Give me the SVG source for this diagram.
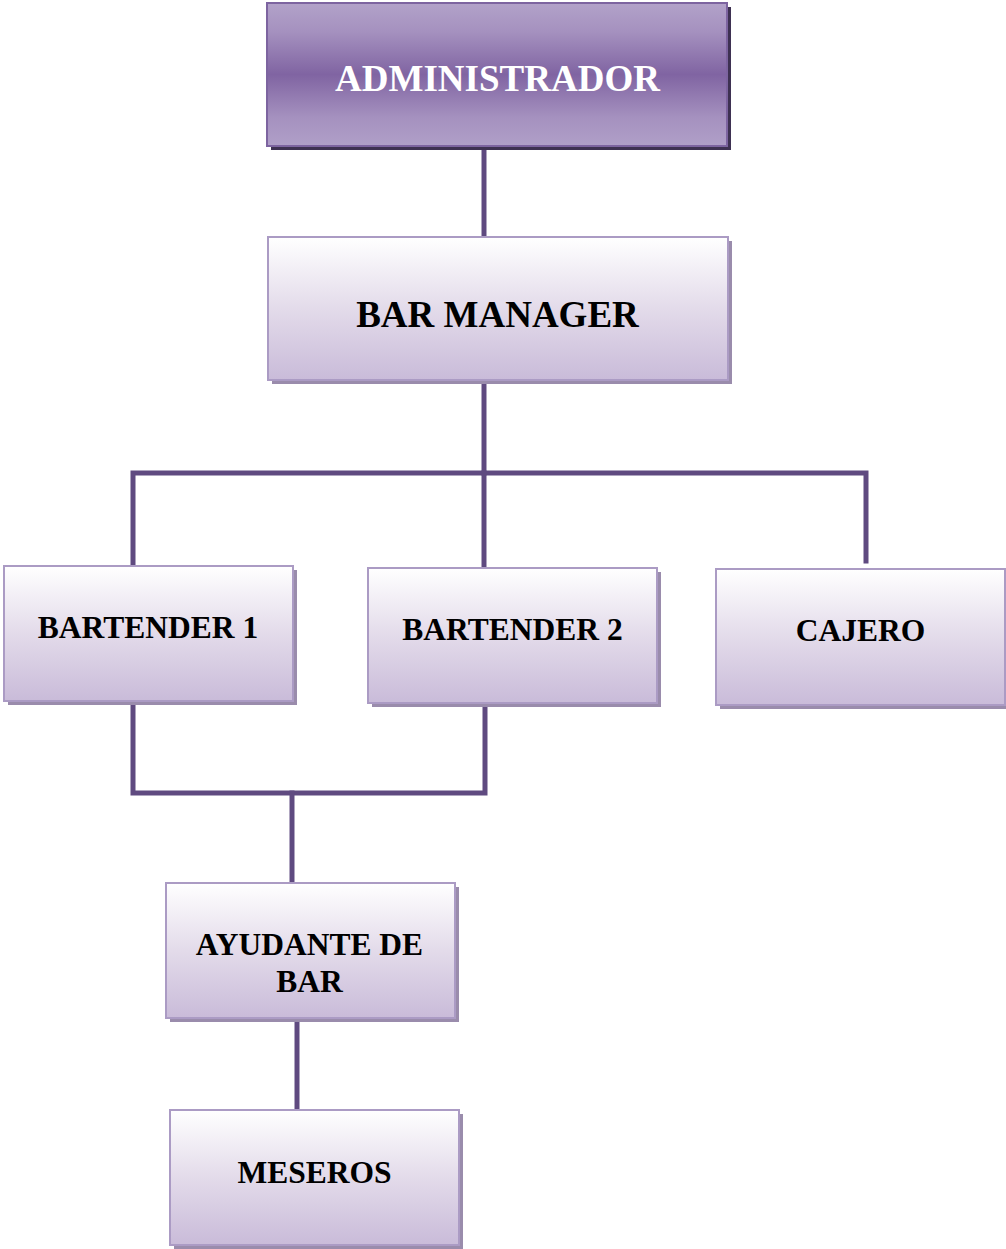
<svg xmlns="http://www.w3.org/2000/svg" width="1006" height="1249" viewBox="0 0 1006 1249">
<defs>
<linearGradient id="gAdmin" x1="0" y1="0" x2="0" y2="1">
<stop offset="0" stop-color="#b2a2c9"/>
<stop offset="0.2" stop-color="#a591bf"/>
<stop offset="0.5" stop-color="#8064a2"/>
<stop offset="0.8" stop-color="#a591bf"/>
<stop offset="1" stop-color="#b09fc8"/>
</linearGradient>
<linearGradient id="gLight" x1="0" y1="0" x2="0" y2="1">
<stop offset="0" stop-color="#ffffff"/>
<stop offset="0.5" stop-color="#e3dbea"/>
<stop offset="1" stop-color="#c9bbd9"/>
</linearGradient>
<style>
.conn{fill:none;stroke:#5f4a80;stroke-width:5;stroke-linecap:square;stroke-linejoin:miter}
.shadowD{fill:#3e3152}
.shadowL{fill:#9a8cac}
.boxA{fill:url(#gAdmin);stroke:#7d64a0;stroke-width:2}
.box{fill:url(#gLight);stroke:#ab9bc4;stroke-width:2}
.t{font-family:"Liberation Serif","Times New Roman",serif;font-weight:bold;text-anchor:middle;fill:#000}
.tw{fill:#fff}
</style>
</defs>
<g id="connectors">
<line class="conn" x1="484" y1="147" x2="484" y2="236"/>
<line class="conn" x1="484" y1="382" x2="484" y2="473"/>
<polyline class="conn" points="133,565 133,473 866,473 866,561"/>
<line class="conn" x1="484" y1="473" x2="484" y2="566"/>
<polyline class="conn" points="133,703 133,793 485,793 485,704"/>
<line class="conn" x1="292" y1="793" x2="292" y2="882"/>
<line class="conn" x1="297" y1="1020" x2="297" y2="1109"/>
</g>
<g id="administrador">
<rect class="shadowD" x="271" y="7" width="460" height="143"/>
<rect class="boxA" x="267" y="3" width="460" height="143"/>
<text class="t tw" x="497.5" y="91" font-size="37">ADMINISTRADOR</text>
</g>
<g id="bar-manager">
<rect class="shadowL" x="272" y="241" width="460" height="143"/>
<rect class="box" x="268" y="237" width="460" height="143"/>
<text class="t" x="497.5" y="327" font-size="37">BAR MANAGER</text>
</g>
<g id="bartender-1">
<rect class="shadowL" x="8" y="570" width="289" height="135"/>
<rect class="box" x="4" y="566" width="289" height="135"/>
<text class="t" x="148" y="638" font-size="31.5">BARTENDER 1</text>
</g>
<g id="bartender-2">
<rect class="shadowL" x="372" y="572" width="289" height="135"/>
<rect class="box" x="368" y="568" width="289" height="135"/>
<text class="t" x="512.5" y="640" font-size="31.5">BARTENDER 2</text>
</g>
<g id="cajero">
<rect class="shadowL" x="720" y="573" width="289" height="136"/>
<rect class="box" x="716" y="569" width="289" height="136"/>
<text class="t" x="860.5" y="641" font-size="31.5">CAJERO</text>
</g>
<g id="ayudante-de-bar">
<rect class="shadowL" x="170" y="887" width="289" height="135"/>
<rect class="box" x="166" y="883" width="289" height="135"/>
<text class="t" x="309.5" y="955" font-size="31.5">AYUDANTE DE</text>
<text class="t" x="309.5" y="992" font-size="31.5">BAR</text>
</g>
<g id="meseros">
<rect class="shadowL" x="174" y="1114" width="289" height="135"/>
<rect class="box" x="170" y="1110" width="289" height="135"/>
<text class="t" x="314.5" y="1183" font-size="31.5">MESEROS</text>
</g>
</svg>
